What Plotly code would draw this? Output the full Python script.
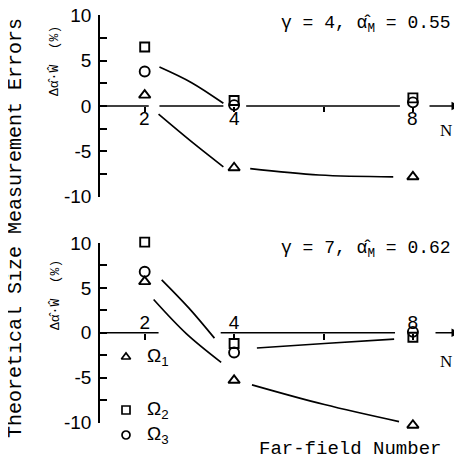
import plotly.graph_objects as go

W, H = 462, 461
OFF = 8  # page body margin offset of the rendered figure

# ---------------- data ----------------
N = [2, 4, 8]
# top panel (gamma = 4)
top_omega1 = [1.2, -6.8, -7.8]
top_omega2 = [6.5, 0.6, 0.9]
top_omega3 = [3.8, 0.1, 0.4]
# bottom panel (gamma = 7)
bot_omega1 = [5.7, -5.3, -10.3]
bot_omega2 = [10.1, -1.2, -0.5]
bot_omega3 = [6.8, -2.2, 0.1]

# hand-drawn trend curves (N, value)
top_curve_upper_n = [2.33, 3.04, 3.76]
top_curve_upper_v = [4.3, 2.6, 0.3]
top_curve_lower_n = [2.31, 3.04, 3.76]
top_curve_lower_v = [-0.9, -3.9, -6.7]
top_curve_right_n = [4.36, 5.9, 7.56]
top_curve_right_v = [-6.9, -7.6, -7.8]

bot_curve_upper_n = [2.38, 2.98, 3.56]
bot_curve_upper_v = [5.9, 2.8, -0.6]
bot_curve_lower_n = [2.2, 2.93, 3.71]
bot_curve_lower_v = [3.7, -0.1, -3.3]
bot_curve_rup_n = [4.51, 6.02, 7.58]
bot_curve_rup_v = [-1.7, -1.2, -0.7]
bot_curve_rlow_n = [4.4, 6.02, 7.69]
bot_curve_rlow_v = [-5.8, -8.0, -9.9]

x_tick_vals = [2, 4, 6, 8]
x_tick_text = ["2", "4", "", "8"]
y_tick_vals = [-10, -7.5, -5, -2.5, 0, 2.5, 5, 7.5, 10]
y_tick_text = ["-10", "", "-5", "", "0", "", "5", "", "10"]

legend_names = ["Ω<sub>1</sub>", "Ω<sub>2</sub>", "Ω<sub>3</sub>"]
legend_symbols = ["triangle-up-open", "square-open", "circle-open"]
marker_sizes = [10, 9, 10]

# zero-line segments (gaps where curves leave the axis)
top_axis_segments = [(1.0, 2.09), (2.33, 3.76), (4.27, 7.71)]
bot_axis_segments = [(1.0, 2.31), (3.7, 7.6)]

# ---------------- geometry helpers (reference pixel -> paper) ----------------
def px_x(p):
    return (p - OFF) / W


def px_y(p):
    return 1 - (p - OFF) / H


PX_PER_N = 44.7
X0_PX = 100.0  # pixel of N = 1 (y axis line)
X_LEFT_PX = 90.0  # left edge of the data plotting area
X_RIGHT_PN = 1.0 + (W + OFF - X0_PX) / PX_PER_N
AX_RANGE = [1.0, X_RIGHT_PN]                  # visible axes
AX_DOM = [px_x(X0_PX), 1.0]
DATA_X_RANGE = [1.0 - (X0_PX - X_LEFT_PX) / PX_PER_N, X_RIGHT_PN]
DATA_X_DOM = [px_x(X_LEFT_PX), 1.0]


def ydom(zero, ppu, lo, hi):
    return [px_y(zero - lo * ppu), px_y(zero - hi * ppu)]


TOP_ZERO, TOP_PPU = 106.0, 9.08
BOT_ZERO, BOT_PPU = 332.75, 8.975
AX_Y_RANGE = [min(y_tick_vals), max(y_tick_vals)]
TOP_DATA_RANGE = [-11.5, 10.6]
BOT_DATA_RANGE = [-12.5, 11.5]

fig = go.Figure()
mono = "Liberation Mono"
sans = "Liberation Sans"
serif = "Liberation Serif"
LW = 1.7


def add_panel(xa, ya, o1, o2, o3, curves, segments):
    xs, ys = [], []
    for a, b in segments:
        xs += [a, b, None]
        ys += [0, 0, None]
    fig.add_trace(go.Scatter(x=xs, y=ys, mode="lines", xaxis=xa, yaxis=ya,
                             line=dict(color="black", width=LW),
                             showlegend=False, cliponaxis=False))
    for cn, cv in curves:
        fig.add_trace(go.Scatter(
            x=cn, y=cv, mode="lines", xaxis=xa, yaxis=ya,
            line=dict(color="black", width=LW, shape="spline"),
            showlegend=False, cliponaxis=False))
    for ser, sym, sz in zip([o1, o2, o3], legend_symbols, marker_sizes):
        fig.add_trace(go.Scatter(
            x=N, y=ser, mode="markers", xaxis=xa, yaxis=ya,
            marker=dict(symbol=sym, size=sz, color="black",
                        line=dict(width=1.9, color="black")),
            showlegend=False, cliponaxis=False))


add_panel("x3", "y3", top_omega1, top_omega2, top_omega3,
          [(top_curve_upper_n, top_curve_upper_v),
           (top_curve_lower_n, top_curve_lower_v),
           (top_curve_right_n, top_curve_right_v)],
          top_axis_segments)
add_panel("x3", "y4", bot_omega1, bot_omega2, bot_omega3,
          [(bot_curve_upper_n, bot_curve_upper_v),
           (bot_curve_lower_n, bot_curve_lower_v),
           (bot_curve_rup_n, bot_curve_rup_v),
           (bot_curve_rlow_n, bot_curve_rlow_v)],
          bot_axis_segments)

# top panel x tick labels sit just under the zero line
for tv, tt in zip(x_tick_vals, x_tick_text):
    if tt:
        fig.add_annotation(x=tv, y=0, xref="x3", yref="y3", text=tt,
                           showarrow=False, xanchor="center", yanchor="middle",
                           yshift=-12,
                           font=dict(family=sans, size=19, color="black"))

# legend key (bottom panel)
leg_x = 1.0 + (126 - X0_PX) / PX_PER_N
leg_y = [(BOT_ZERO - p) / BOT_PPU for p in (357, 410, 435)]
for sym, yy, name in zip(legend_symbols, leg_y, legend_names):
    fig.add_trace(go.Scatter(x=[leg_x], y=[yy], mode="markers",
                             xaxis="x3", yaxis="y4",
                             marker=dict(symbol=sym, size=8, color="black",
                                         line=dict(width=1.7, color="black")),
                             showlegend=False, cliponaxis=False))
    fig.add_annotation(x=leg_x + 0.42, y=yy, xref="x3", yref="y4",
                       text=name, showarrow=False, xanchor="left",
                       yanchor="middle",
                       font=dict(family=sans, size=19, color="black"))

# empty traces so the visible axes are drawn
fig.add_trace(go.Scatter(x=[None], y=[None], xaxis="x", yaxis="y",
                         showlegend=False))
fig.add_trace(go.Scatter(x=[None], y=[None], xaxis="x2", yaxis="y2",
                         showlegend=False))

yaxis_common = dict(range=AX_Y_RANGE, tickvals=y_tick_vals,
                    ticktext=y_tick_text,
                    ticks="inside", ticklen=7, tickwidth=LW, tickcolor="black",
                    showline=True, linecolor="black", linewidth=LW,
                    showgrid=False, zeroline=False, automargin=False,
                    ticklabeloverflow="allow",
                    tickfont=dict(family=sans, size=19, color="black"),
                    ticklabelstandoff=3)
xaxis_common = dict(domain=AX_DOM, range=AX_RANGE, anchor="free",
                    tickvals=x_tick_vals, ticktext=x_tick_text,
                    tickwidth=LW, tickcolor="black",
                    showline=False, showgrid=False, zeroline=False,
                    automargin=False, ticklabeloverflow="allow",
                    tickfont=dict(family=sans, size=19, color="black"))
hidden = dict(visible=False, showgrid=False, zeroline=False, automargin=False)

fig.update_layout(
    width=W, height=H,
    margin=dict(l=0, r=0, t=0, b=0, autoexpand=False),
    paper_bgcolor="white", plot_bgcolor="rgba(0,0,0,0)",
    xaxis=dict(position=px_y(TOP_ZERO), side="bottom", ticks="outside",
               ticklen=5, showticklabels=False, **xaxis_common),
    yaxis=dict(domain=ydom(TOP_ZERO, TOP_PPU, *AX_Y_RANGE), anchor="x",
               **yaxis_common),
    xaxis2=dict(position=px_y(BOT_ZERO), side="top", ticks="inside",
                ticklen=6, **xaxis_common),
    yaxis2=dict(domain=ydom(BOT_ZERO, BOT_PPU, *AX_Y_RANGE), anchor="x2",
                **yaxis_common),
    xaxis3=dict(domain=DATA_X_DOM, range=DATA_X_RANGE, anchor="y3", **hidden),
    yaxis3=dict(domain=ydom(TOP_ZERO, TOP_PPU, *TOP_DATA_RANGE),
                range=TOP_DATA_RANGE, anchor="x3", **hidden),
    yaxis4=dict(domain=ydom(BOT_ZERO, BOT_PPU, *BOT_DATA_RANGE),
                range=BOT_DATA_RANGE, anchor="x3", **hidden),
)

# arrows on the N axes
def n_at(p):
    return 1.0 + (p - X0_PX) / PX_PER_N


fig.add_annotation(x=n_at(460), y=0, ax=n_at(428), ay=0, xref="x3", yref="y3",
                   axref="x3", ayref="y3", showarrow=True, arrowhead=2,
                   arrowsize=1, arrowwidth=LW, arrowcolor="black", text="")
fig.add_annotation(x=n_at(460), y=0, ax=n_at(434), ay=0, xref="x3", yref="y4",
                   axref="x3", ayref="y4", showarrow=True, arrowhead=2,
                   arrowsize=1, arrowwidth=LW, arrowcolor="black", text="")


def paper_text(px, py, text, font, size, xanchor="center", angle=0):
    fig.add_annotation(x=px_x(px), y=px_y(py), xref="paper", yref="paper",
                       text=text, showarrow=False, xanchor=xanchor,
                       yanchor="middle", textangle=angle,
                       font=dict(family=font, size=size, color="black"))


paper_text(446, 131, "N", serif, 17)
paper_text(446, 361, "N", serif, 17)
paper_text(453, 24, "γ = 4, α̂<sub>M</sub> = 0.55", mono, 18, xanchor="right")
paper_text(453, 249, "γ = 7, α̂<sub>M</sub> = 0.62", mono, 18, xanchor="right")
paper_text(350, 449, "Far-field Number", mono, 19)
paper_text(16, 228, "Theoretical Size Measurement Errors", mono, 20, angle=-90)
for cy in (61, 295):
    paper_text(55, cy, "Δα̂·Ŵ  (%)", mono, 13, angle=-90)

fig.write_html("out.html")
